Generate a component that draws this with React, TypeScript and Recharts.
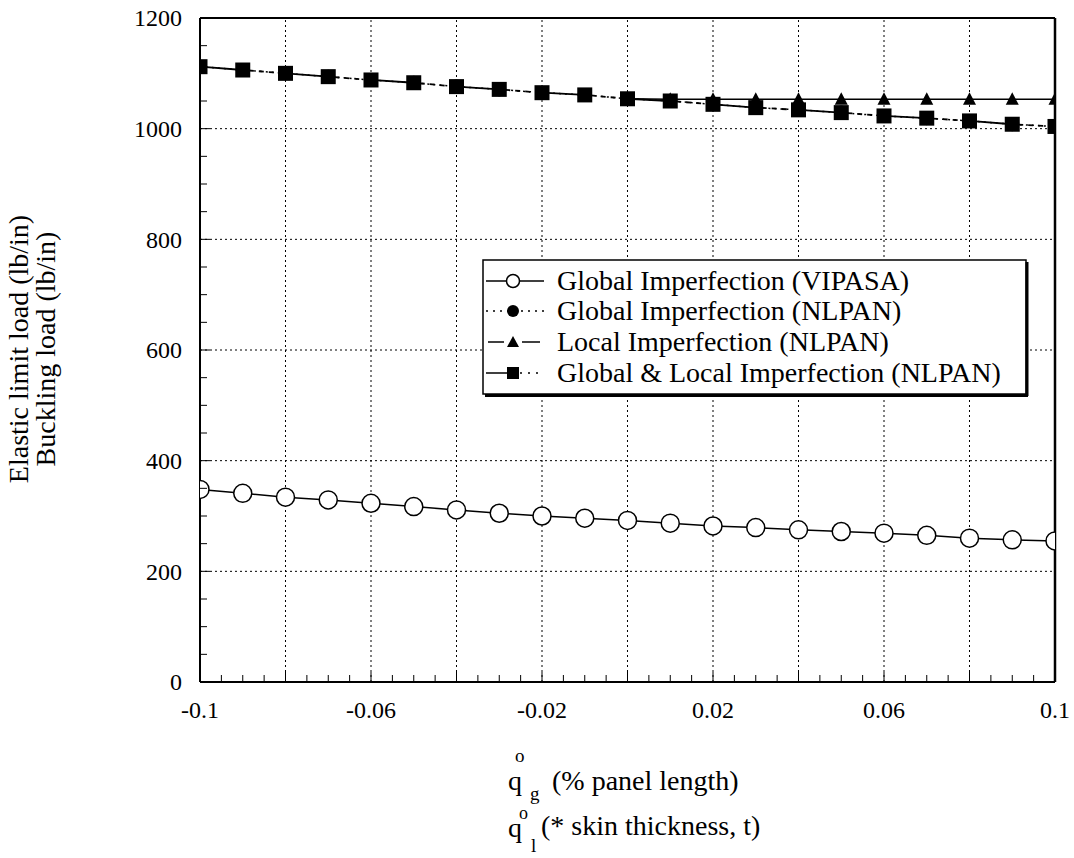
import { LineChart, Line, XAxis, YAxis, ReferenceLine, Legend } from "recharts"

const qValues = [-0.1, -0.09, -0.08, -0.07, -0.06, -0.05, -0.04, -0.03, -0.02, -0.01, 0, 0.01, 0.02, 0.03, 0.04, 0.05, 0.06, 0.07, 0.08, 0.09, 0.1]

const vipasa = [348, 341, 334, 329, 323, 317, 311, 305, 300, 296, 292, 287, 282, 279, 275, 272, 269, 265, 260, 257, 255]
const globalNlpan = [1112, 1106, 1100, 1094, 1088, 1083, 1076, 1071, 1065, 1061, 1054, 1050, 1044, 1038, 1034, 1029, 1023, 1019, 1014, 1008, 1004]
const localNlpan = [null, null, null, null, null, null, null, null, null, null, 1054, 1053, 1053, 1053, 1053, 1053, 1053, 1053, 1053, 1053, 1053]
const globalLocalNlpan = [1112, 1106, 1100, 1094, 1088, 1083, 1076, 1071, 1065, 1061, 1054, 1050, 1044, 1038, 1034, 1029, 1023, 1019, 1014, 1008, 1004]

const xLabelTicks = [-0.1, -0.06, -0.02, 0.02, 0.06, 0.1]
const xGridLines = [-0.08, -0.06, -0.04, -0.02, 0, 0.02, 0.04, 0.06, 0.08]
const xMinorTicks = [
  -0.1, -0.095, -0.09, -0.085, -0.08, -0.075, -0.07, -0.065, -0.06, -0.055, -0.05,
  -0.045, -0.04, -0.035, -0.03, -0.025, -0.02, -0.015, -0.01, -0.005, 0,
  0.005, 0.01, 0.015, 0.02, 0.025, 0.03, 0.035, 0.04, 0.045, 0.05,
  0.055, 0.06, 0.065, 0.07, 0.075, 0.08, 0.085, 0.09, 0.095, 0.1,
]
const yLabelTicks = [0, 200, 400, 600, 800, 1000, 1200]
const yGridLines = [200, 400, 600, 800, 1000]
const yMinorTicks = [0, 50, 100, 150, 200, 250, 300, 350, 400, 450, 500, 550, 600, 650, 700, 750, 800, 850, 900, 950, 1000, 1050, 1100, 1150, 1200]

const legendLabels = [
  "Global Imperfection (VIPASA)",
  "Global Imperfection (NLPAN)",
  "Local Imperfection (NLPAN)",
  "Global & Local Imperfection (NLPAN)",
]

const FONT = "'Liberation Serif', 'Times New Roman', serif"
const near = (a: number, b: number) => Math.abs(a - b) < 1e-9

const rows = qValues.map((q, i) => ({
  q,
  vipasa: vipasa[i],
  globalNlpan: globalNlpan[i],
  localNlpan: localNlpan[i],
  globalLocalNlpan: globalLocalNlpan[i],
}))

const XTick = ({ x, y, payload }: any) => {
  const v = payload.value
  const label = xLabelTicks.find((t) => near(t, v))
  const major = label !== undefined || xGridLines.some((t) => near(t, v))
  return (
    <g>
      <line x1={x} x2={x} y1={y} y2={y - (major ? 10 : 7)} stroke="#000" strokeWidth={1} />
      {label !== undefined && (
        <text x={x} y={y + 36} textAnchor="middle" fontSize={24} fontFamily={FONT} fill="#000">
          {String(label)}
        </text>
      )}
    </g>
  )
}

const YTick = ({ x, y, payload }: any) => {
  const v = payload.value
  const label = yLabelTicks.find((t) => near(t, v))
  return (
    <g>
      <line x1={x} x2={x + (label !== undefined ? 10 : 7)} y1={y} y2={y} stroke="#000" strokeWidth={1} />
      {label !== undefined && (
        <text x={x - 18} y={y} dy="0.35em" textAnchor="end" fontSize={24} fontFamily={FONT} fill="#000">
          {String(label)}
        </text>
      )}
    </g>
  )
}

const OpenCircle = ({ cx, cy, index }: any) =>
  cx == null || cy == null ? <g key={index} /> : (
    <circle key={index} cx={cx} cy={cy} r={9} fill="#fff" stroke="#000" strokeWidth={1.5} />
  )

const FilledCircle = ({ cx, cy, index }: any) =>
  cx == null || cy == null ? <g key={index} /> : <circle key={index} cx={cx} cy={cy} r={7} fill="#000" />

const Triangle = ({ cx, cy, index }: any) =>
  cx == null || cy == null ? <g key={index} /> : (
    <polygon key={index} points={`${cx},${cy - 7} ${cx - 6.5},${cy + 5.5} ${cx + 6.5},${cy + 5.5}`} fill="#000" />
  )

const Square = ({ cx, cy, index }: any) =>
  cx == null || cy == null ? <g key={index} /> : (
    <rect key={index} x={cx - 7.5} y={cy - 7.5} width={15} height={15} fill="#000" />
  )

const LegendBox = () => {
  const baselines = [31, 61, 92, 123]
  return (
    <svg width={548} height={140} style={{ display: "block" }}>
      <rect x={1} y={1} width={543} height={134} fill="#fff" stroke="#000" strokeWidth={1.5} />
      <line x1={545} x2={545} y1={3} y2={137} stroke="#000" strokeWidth={3} />
      <line x1={3} x2={546} y1={136.5} y2={136.5} stroke="#000" strokeWidth={3} />
      {legendLabels.map((label, i) => {
        const ly = baselines[i] - 9
        return (
          <g key={label}>
            {i === 0 && (
              <>
                <line x1={4} x2={62} y1={ly} y2={ly} stroke="#000" strokeWidth={1.5} />
                <circle cx={31} cy={ly} r={6.5} fill="#fff" stroke="#000" strokeWidth={1.5} />
              </>
            )}
            {i === 1 && (
              <>
                <line x1={4} x2={62} y1={ly} y2={ly} stroke="#000" strokeWidth={1.5} strokeDasharray="2 5" />
                <circle cx={31} cy={ly} r={6} fill="#000" />
              </>
            )}
            {i === 2 && (
              <>
                <line x1={6} x2={22} y1={ly} y2={ly} stroke="#000" strokeWidth={1.5} />
                <line x1={40} x2={58} y1={ly} y2={ly} stroke="#000" strokeWidth={1.5} />
                <polygon points={`31,${ly - 6} 25,${ly + 5} 37,${ly + 5}`} fill="#000" />
              </>
            )}
            {i === 3 && (
              <>
                <line x1={4} x2={26} y1={ly} y2={ly} stroke="#000" strokeWidth={1.5} />
                <line x1={38} x2={62} y1={ly} y2={ly} stroke="#000" strokeWidth={1.5} strokeDasharray="2 6" />
                <rect x={25} y={ly - 6} width={12} height={12} fill="#000" />
              </>
            )}
            <text x={75} y={baselines[i]} fontSize={28} fontFamily={FONT} fill="#000">
              {label}
            </text>
          </g>
        )
      })}
    </svg>
  )
}

export default function App() {
  return (
    <div style={{ position: "absolute", left: 0, top: 0, width: 1074, height: 858, background: "#fff" }}>
      <LineChart width={1074} height={858} data={rows} margin={{ top: 18, right: 19, bottom: 0, left: 0 }}>
        <XAxis
          dataKey="q"
          type="number"
          domain={[-0.1, 0.1]}
          ticks={xMinorTicks}
          interval={0}
          tickSize={0}
          tickMargin={0}
          tickLine={false}
          tick={(p: any) => <XTick {...p} />}
          height={176}
          axisLine={{ stroke: "#000", strokeWidth: 2 }}
          allowDataOverflow
        />
        <YAxis
          type="number"
          domain={[0, 1200]}
          ticks={yMinorTicks}
          interval={0}
          tickSize={0}
          tickMargin={0}
          tickLine={false}
          tick={(p: any) => <YTick {...p} />}
          width={200}
          axisLine={{ stroke: "#000", strokeWidth: 2 }}
          allowDataOverflow
        />
        {xGridLines.map((v) => (
          <ReferenceLine key={`gx${v}`} x={v} stroke="#000" strokeWidth={1} strokeDasharray="2 3" />
        ))}
        {yGridLines.map((v) => (
          <ReferenceLine key={`gy${v}`} y={v} stroke="#000" strokeWidth={1} strokeDasharray="2 3" />
        ))}
        <ReferenceLine y={1200} stroke="#000" strokeWidth={2} />
        <ReferenceLine x={0.1} stroke="#000" strokeWidth={2.5} />
        <Legend
          layout="vertical"
          align="center"
          verticalAlign="middle"
          wrapperStyle={{ left: 482, top: 259, width: 548 }}
          content={() => <LegendBox />}
        />
        <Line
          dataKey="localNlpan"
          stroke="#000"
          strokeWidth={1.5}
          dot={(p: any) => <Triangle {...p} />}
          isAnimationActive={false}
        />
        <Line
          dataKey="globalNlpan"
          stroke="#000"
          strokeWidth={1.5}
          strokeDasharray="2 4"
          dot={(p: any) => <FilledCircle {...p} />}
          isAnimationActive={false}
        />
        <Line
          dataKey="globalLocalNlpan"
          stroke="#000"
          strokeWidth={1.8}
          strokeDasharray="44 5 5 5 5 5 5 5 5 1.7"
          dot={(p: any) => <Square {...p} />}
          isAnimationActive={false}
        />
        <Line
          dataKey="vipasa"
          stroke="#000"
          strokeWidth={1.5}
          dot={(p: any) => <OpenCircle {...p} />}
          isAnimationActive={false}
        />
      </LineChart>
      <svg
        width={1074}
        height={858}
        style={{ position: "absolute", left: 0, top: 0, pointerEvents: "none" }}
      >
        <g fontFamily={FONT} fill="#000">
          <text x={28} y={349} fontSize={28} textAnchor="middle" transform="rotate(-90 28 349)">
            Elastic limit load (lb/in)
          </text>
          <text x={55} y={349} fontSize={28} textAnchor="middle" transform="rotate(-90 55 349)">
            Buckling load (lb/in)
          </text>
          <text x={508} y={790} fontSize={28}>q</text>
          <text x={515} y={762} fontSize={19}>o</text>
          <text x={530} y={800} fontSize={19}>g</text>
          <text x={552} y={790} fontSize={28}>(% panel length)</text>
          <text x={508} y={837} fontSize={28}>q</text>
          <text x={519} y={819} fontSize={18}>o</text>
          <text x={531} y={852} fontSize={19}>l</text>
          <text x={541} y={835} fontSize={28}>(* skin thickness, t)</text>
        </g>
      </svg>
    </div>
  )
}
